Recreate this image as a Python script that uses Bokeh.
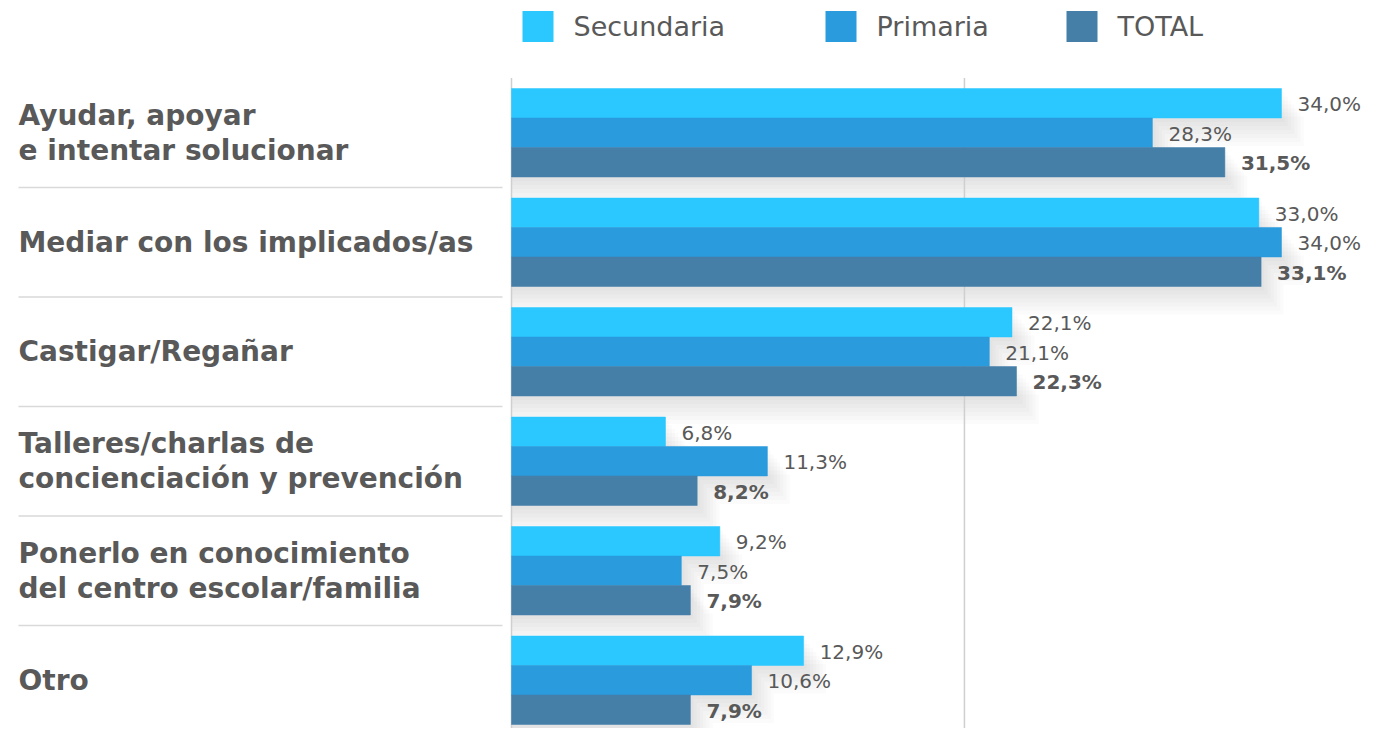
from bokeh.plotting import figure
from bokeh.models import Range1d, ColumnDataSource
from bokeh.core.properties import value
from bokeh.embed import file_html
from bokeh.resources import INLINE

# ---------------- data ----------------
categories = [
    "Ayudar, apoyar\ne intentar solucionar",
    "Mediar con los implicados/as",
    "Castigar/Regañar",
    "Talleres/charlas de\nconcienciación y prevención",
    "Ponerlo en conocimiento\ndel centro escolar/familia",
    "Otro",
]
series_names = ["Secundaria", "Primaria", "TOTAL"]
secundaria = [34.0, 33.0, 22.1, 6.8, 9.2, 12.9]
primaria = [28.3, 34.0, 21.1, 11.3, 7.5, 10.6]
total = [31.5, 33.1, 22.3, 8.2, 7.9, 7.9]
gridlines = [0, 20]

colors = ["#2BC7FF", "#2A9BDC", "#457FA8"]
TXT = "#595959"
FONT = "DejaVu Sans"

W, H = 1367, 728
X0_PX = 511          # canvas px of value 0
PX_PER_UNIT = 22.647
Y_PX = 109.5         # px per category step
Y_TOP_PX = 77.5      # canvas px of y = -0.5

x_start = -X0_PX / PX_PER_UNIT
x_end = (W - X0_PX) / PX_PER_UNIT
y_top = -0.5 - Y_TOP_PX / Y_PX
y_bottom = -0.5 + (H - Y_TOP_PX) / Y_PX


def px_x(cx):
    return (cx - X0_PX) / PX_PER_UNIT


def px_y(cy):
    return -0.5 + (cy - Y_TOP_PX) / Y_PX


p = figure(width=W, height=H, output_backend="svg", toolbar_location=None,
           x_range=Range1d(x_start, x_end), y_range=Range1d(y_bottom, y_top),
           min_border=0, min_border_left=0, min_border_right=0,
           min_border_top=0, min_border_bottom=0)
p.axis.visible = False
p.grid.visible = False
p.outline_line_color = None
p.background_fill_color = "white"
p.border_fill_color = "white"

h = 29.5 / Y_PX
n = len(categories)
all_series = [secundaria, primaria, total]
offsets = [-h, 0.0, h]

# soft drop shadow under the bars
for off_px in [4, 8, 12, 16, 20, 24, 28]:
    dy = off_px / Y_PX
    for s_vals, o in zip(all_series, offsets):
        p.hbar(y=[i + o + dy for i in range(n)],
               right=[v + off_px / PX_PER_UNIT * 0.8 for v in s_vals],
               left=0, height=h, fill_color="#000000", fill_alpha=0.017,
               line_color=None)

# vertical gridlines (0 and 20%)
p.segment(x0=gridlines, x1=gridlines, y0=[-0.5] * len(gridlines),
          y1=[y_bottom + 0.1] * len(gridlines), line_color="#cfcfcf",
          line_width=1.5)

# separators between categories
sep_y = [i + 0.5 for i in range(n - 1)]
p.segment(x0=[px_x(18)] * len(sep_y), x1=[px_x(502)] * len(sep_y),
          y0=sep_y, y1=sep_y, line_color="#d9d9d9", line_width=1.5)

# bars and value labels
for k, (name, s_vals, o, c) in enumerate(zip(series_names, all_series, offsets, colors)):
    src = ColumnDataSource(dict(
        y=[i + o for i in range(n)],
        v=s_vals,
        lab=[f"{v:.1f}".replace(".", ",") + "%" for v in s_vals],
    ))
    p.hbar(y="y", right="v", left=0, height=h, source=src, fill_color=c,
           line_color=c, line_width=0.5)
    p.text(x="v", y="y", text="lab", source=src, x_offset=16, y_offset=1,
           text_font=value(FONT), text_font_size="20px",
           text_font_style="bold" if k == 2 else "normal",
           text_color=TXT, text_baseline="middle", text_align="left")

# category labels
p.text(x=[px_x(18)] * n, y=list(range(n)), text=categories,
       text_font=value(FONT), text_font_size="28px", text_font_style="bold",
       text_color=TXT, text_baseline="middle", text_align="left",
       text_line_height=1.07)

# legend (manual)
leg_sq_px = [522, 825, 1066]
leg_y = px_y(26)
p.scatter(x=[px_x(x + 15.5) for x in leg_sq_px], y=[leg_y] * 3, marker="square",
          size=31, fill_color=colors, line_color=None)
p.text(x=[px_x(x + 51) for x in leg_sq_px], y=[leg_y] * 3, text=series_names,
       text_font=value(FONT), text_font_size="27px", text_color=TXT,
       text_baseline="middle", text_align="left")

open("out.html", "w").write(file_html(p, INLINE))
